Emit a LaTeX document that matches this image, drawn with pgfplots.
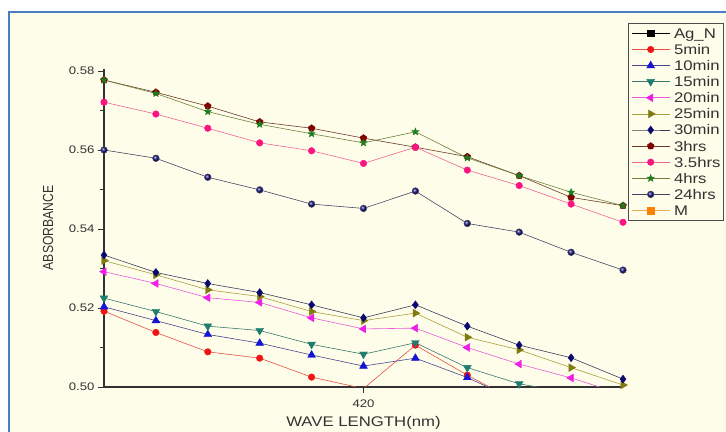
\documentclass[border=0pt]{standalone}
\usepackage{fontspec}
\setmainfont{Liberation Sans}[FakeStretch=1.2]
\newfontfamily\plainsans{Liberation Sans}
\usepackage{graphicx}
\usepackage{pgfplots}
\pgfplotsset{compat=1.18}
\usetikzlibrary{plotmarks}

\definecolor{cream}{RGB}{254,253,234}
\definecolor{frameblue}{RGB}{74,126,192}
\definecolor{axgray}{RGB}{50,50,50}
% marker colours
\definecolor{m5}{RGB}{240,20,20}
\definecolor{m10}{RGB}{20,20,210}
\definecolor{m15}{RGB}{30,125,110}
\definecolor{m20}{RGB}{240,30,230}
\definecolor{m25}{RGB}{128,122,16}
\definecolor{m30}{RGB}{10,10,110}
\definecolor{m3h}{RGB}{128,0,0}
\definecolor{m35}{RGB}{250,20,130}
\definecolor{m4h}{RGB}{30,125,30}
\definecolor{m24}{RGB}{20,20,130}
\definecolor{mM}{RGB}{255,128,0}
% line colours
\definecolor{l5}{RGB}{230,80,70}
\definecolor{l10}{RGB}{70,70,140}
\definecolor{l15}{RGB}{60,120,110}
\definecolor{l20}{RGB}{230,90,220}
\definecolor{l25}{RGB}{170,160,60}
\definecolor{l30}{RGB}{60,60,90}
\definecolor{l3h}{RGB}{110,60,40}
\definecolor{l35}{RGB}{240,100,150}
\definecolor{l4h}{RGB}{110,130,60}
\definecolor{l24}{RGB}{70,70,100}
\definecolor{lM}{RGB}{240,170,80}

\pgfdeclareplotmark{fstar}{%
  \pgfpathmoveto{\pgfpointpolar{90}{\pgfplotmarksize}}%
  \pgfpathlineto{\pgfpointpolar{126}{0.42\pgfplotmarksize}}%
  \pgfpathlineto{\pgfpointpolar{162}{\pgfplotmarksize}}%
  \pgfpathlineto{\pgfpointpolar{198}{0.42\pgfplotmarksize}}%
  \pgfpathlineto{\pgfpointpolar{234}{\pgfplotmarksize}}%
  \pgfpathlineto{\pgfpointpolar{270}{0.42\pgfplotmarksize}}%
  \pgfpathlineto{\pgfpointpolar{306}{\pgfplotmarksize}}%
  \pgfpathlineto{\pgfpointpolar{342}{0.42\pgfplotmarksize}}%
  \pgfpathlineto{\pgfpointpolar{18}{\pgfplotmarksize}}%
  \pgfpathlineto{\pgfpointpolar{54}{0.42\pgfplotmarksize}}%
  \pgfpathclose
  \pgfusepathqfillstroke
}

\pgfplotsset{
  ser/.style n args={4}{draw=#1, line width=0.6bp, mark=#3, mark size=3.3bp,
     mark options={solid, draw=#2, fill=#2, line width=0.4bp, rotate=#4}},
}

\begin{document}
\begin{tikzpicture}
\path[use as bounding box] (-104bp,-45bp) rectangle (622bp,387bp);
\fill[white] (-104bp,-45bp) rectangle (622bp,387bp);
\fill[cream] (-95bp,-50bp) rectangle (630bp,375bp);
\draw[frameblue, line width=2bp] (-95bp,-50bp) -- (-95bp,375bp) -- (630bp,375bp);
\begin{axis}[
  at={(0,0)}, anchor=south west,
  scale only axis, width=519bp, height=318bp,
  xmin=410, xmax=430, ymin=0.50, ymax=0.5805,
  axis x line*=bottom, axis y line*=left,
  axis line style={axgray, line width=1.1bp},
  xtick={420}, ytick={0.50,0.52,0.54,0.56,0.58},
  minor ytick={0.51,0.53,0.55,0.57},
  tick align=outside, major tick length=6bp, minor tick length=3.5bp,
  tick style={axgray, line width=0.9bp},
  /pgf/number format/assume math mode=true,
  yticklabel style={/pgf/number format/.cd, fixed, fixed zerofill, precision=2},
  xticklabel style={yshift=-3bp},
  ticklabel style={font=\fontsize{11}{13}\selectfont, text=axgray},
  xlabel={WAVE LENGTH(nm)},
  ylabel={\scalebox{1}[1.2]{\plainsans\fontsize{12.2}{14}\selectfont ABSORBANCE}},
  every axis x label/.style={at={(axis description cs:0.5,0)}, anchor=center, yshift=-35.5bp, font=\fontsize{14}{16}\selectfont, text=axgray},
  every axis y label/.style={at={(axis description cs:0,0.5)}, xshift=-56bp, rotate=90, anchor=center, text=axgray},
  legend style={at={(axis description cs:1,1)}, anchor=north west, xshift=5bp, yshift=46bp,
     draw=gray!60!black, line width=0.8bp, fill=none,
     font=\fontsize{14}{16}\selectfont, text=axgray,
     inner xsep=3bp, inner ysep=5bp,
     nodes={inner sep=0pt, text height=10bp, text depth=0bp},
     row sep=6.1bp, column sep=4bp},
  legend cell align=left,
  legend image code/.code={\draw[mark repeat=2,mark phase=2] plot coordinates {(0bp,0bp) (19bp,0bp) (38bp,0bp)};},
]
\addlegendimage{ser={black}{black}{square*}{0}}
\addlegendentry{Ag\_N}

\addplot[ser={l5}{m5}{*}{0}] coordinates {
 (410,0.5192) (412,0.5138) (414,0.5089) (416,0.5073) (418,0.5025) (420,0.4996)
 (422,0.5106) (424,0.5030) (426,0.4960) (428,0.4945) (430,0.4930)};
\addlegendentry{5min}

\addplot[ser={l10}{m10}{triangle*}{0}, mark size=4.5bp] coordinates {
 (410,0.5203) (412,0.5168) (414,0.5133) (416,0.5111) (418,0.5081) (420,0.5053)
 (422,0.5073) (424,0.5024) (426,0.4963) (428,0.4940) (430,0.4920)};
\addlegendentry{10min}

\addplot[ser={l15}{m15}{triangle*}{180}, mark size=4.5bp] coordinates {
 (410,0.5225) (412,0.5191) (414,0.5154) (416,0.5143) (418,0.5108) (420,0.5083)
 (422,0.5112) (424,0.5049) (426,0.5008) (428,0.4985) (430,0.4965)};
\addlegendentry{15min}

\addplot[ser={l20}{m20}{triangle*}{90}, mark size=4.5bp] coordinates {
 (410,0.5292) (412,0.5262) (414,0.5226) (416,0.5214) (418,0.5175) (420,0.5147)
 (422,0.5149) (424,0.5100) (426,0.5058) (428,0.5023) (430,0.4981)};
\addlegendentry{20min}

\addplot[ser={l25}{m25}{triangle*}{-90}, mark size=4.5bp] coordinates {
 (410,0.5320) (412,0.5284) (414,0.5246) (416,0.5229) (418,0.5191) (420,0.5168)
 (422,0.5187) (424,0.5126) (426,0.5094) (428,0.5049) (430,0.5005)};
\addlegendentry{25min}

\addplot[ser={l30}{m30}{diamond*}{0}, mark size=4bp] coordinates {
 (410,0.5334) (412,0.5290) (414,0.5262) (416,0.5239) (418,0.5208) (420,0.5175)
 (422,0.5208) (424,0.5154) (426,0.5106) (428,0.5074) (430,0.5020)};
\addlegendentry{30min}

\addplot[ser={l3h}{m3h}{pentagon*}{0}, mark size=3.6bp] coordinates {
 (410,0.5777) (412,0.5746) (414,0.5711) (416,0.5671) (418,0.5655) (420,0.5630)
 (422,0.5607) (424,0.5583) (426,0.5535) (428,0.5480) (430,0.5459)};
\addlegendentry{3hrs}

\addplot[ser={l35}{m35}{*}{0}] coordinates {
 (410,0.5721) (412,0.5691) (414,0.5655) (416,0.5618) (418,0.5598) (420,0.5566)
 (422,0.5607) (424,0.5549) (426,0.5510) (428,0.5463) (430,0.5417)};
\addlegendentry{3.5hrs}

\addplot[ser={l4h}{m4h}{fstar}{0}, mark size=3.8bp] coordinates {
 (410,0.5777) (412,0.5743) (414,0.5697) (416,0.5665) (418,0.5641) (420,0.5618)
 (422,0.5646) (424,0.5580) (426,0.5535) (428,0.5493) (430,0.5459)};
\addlegendentry{4hrs}

\addplot[draw=l24, line width=0.6bp, mark=ball, mark size=3.3bp, mark options={ball color=m24}] coordinates {
 (410,0.5600) (412,0.5579) (414,0.5531) (416,0.5499) (418,0.5463) (420,0.5452)
 (422,0.5496) (424,0.5414) (426,0.5392) (428,0.5341) (430,0.5296)};
\addlegendentry{24hrs}

\addlegendimage{ser={lM}{mM}{square*}{0}}
\addlegendentry{M}
\end{axis}
\end{tikzpicture}
\end{document}
